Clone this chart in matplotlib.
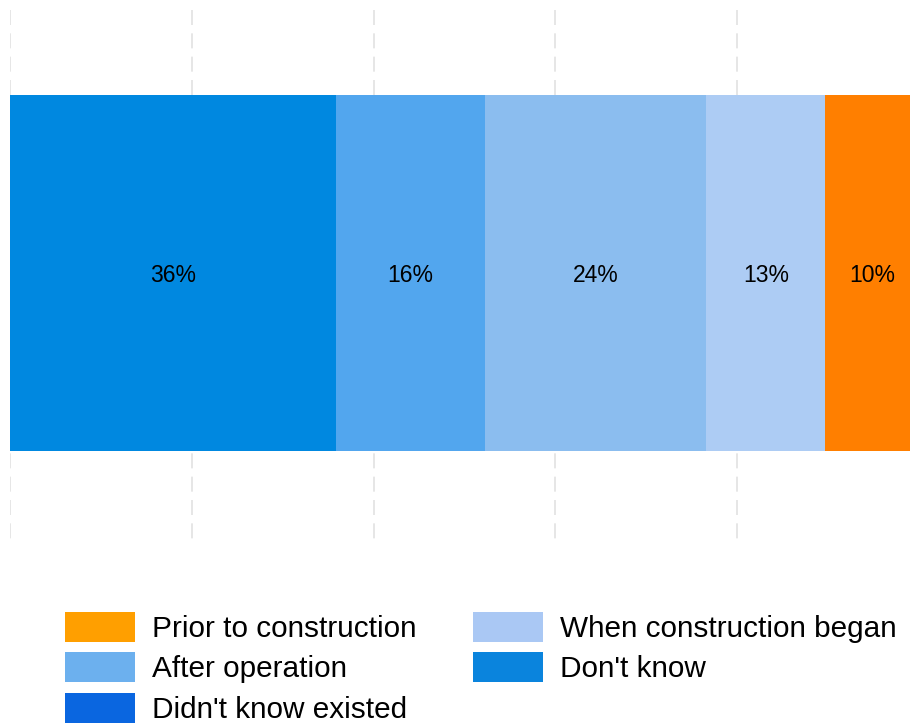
import matplotlib.pyplot as plt
from matplotlib.patches import Patch

plt.rcParams['font.family'] = ['Liberation Sans', 'DejaVu Sans']

# segment values, left to right
values = [35.9, 16.3, 24.4, 13.1, 10.3]
value_labels = ['36%', '16%', '24%', '13%', '10%']
bar_colors = ['#0088e0', '#52a6ee', '#8bbdef', '#adccf4', '#ff7f00']

legend_labels = ['Prior to construction', 'After operation', "Didn't know existed",
                 'When construction began', "Don't know"]
legend_colors = ['#ff9f00', '#6cb0ee', '#0a66e0', '#aac8f4', '#0a84dd']

fig = plt.figure(figsize=(9.1, 7.25), dpi=100)
ax = fig.add_axes([10 / 910, 1 - 545 / 725, 900 / 910, 535 / 725])

left = 0
for v, lab, c in zip(values, value_labels, bar_colors):
    ax.barh(0, v, left=left, height=0.8, color=c, edgecolor='none', zorder=2)
    ax.text(left + v / 2, 0, lab, ha='center', va='center_baseline', fontsize=16.5,
            color='black', zorder=3)
    left += v

ax.set_xlim(0, 99)
ax.set_ylim(-0.611, 0.591)
# dashed grid, drawn top-down so the dash pattern starts at the top edge
ax.vlines([0, 20, 40, 60, 80], 0.591, -0.611, color='#e2e2e2', lw=1.2,
          linestyles=[(0, (9, 5))], zorder=1)
ax.set_xticks([])
ax.set_yticks([])
for s in ax.spines.values():
    s.set_visible(False)

handles = [Patch(facecolor=c, edgecolor='none') for c in legend_colors]
fig.legend(handles, legend_labels, ncol=2, loc='upper left',
           bbox_to_anchor=(50 / 910, 1 - 597 / 725), frameon=False,
           fontsize=21.4, handlelength=2.36, handleheight=1.177,
           handletextpad=0.57, columnspacing=1.9, labelspacing=0.32, borderpad=0)

fig.savefig('out.png', dpi=100)
